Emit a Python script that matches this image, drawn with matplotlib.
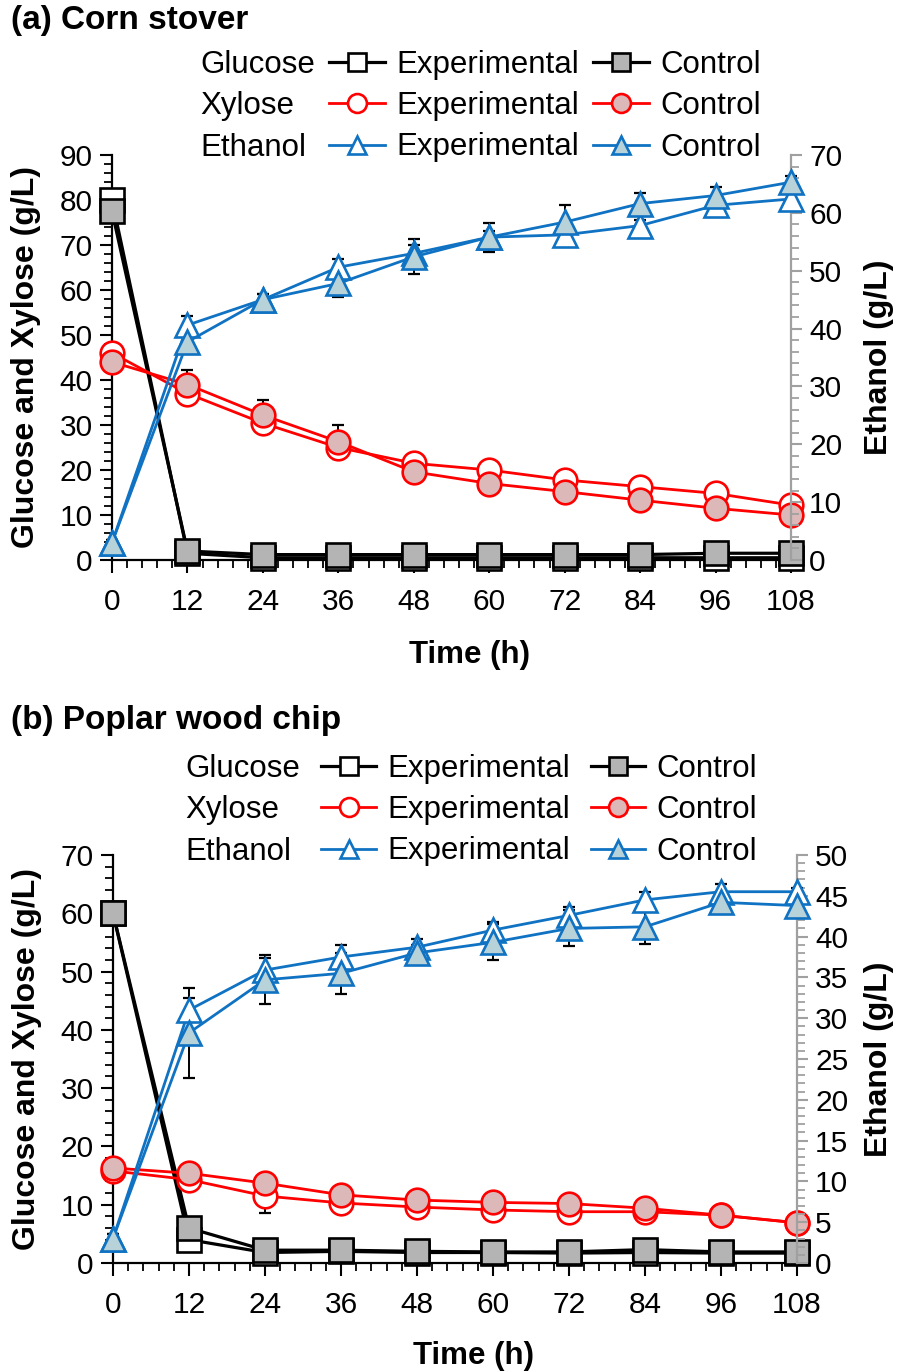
import matplotlib.pyplot as plt
from matplotlib.lines import Line2D
from matplotlib.ticker import MultipleLocator

plt.rcParams['font.family'] = ['Liberation Sans', 'DejaVu Sans']

time_h = [0, 12, 24, 36, 48, 60, 72, 84, 96, 108]

# (a) corn stover
a_glc_exp = [80.0, 1.5, 0.5, 0.5, 0.5, 0.5, 0.5, 0.5, 0.5, 0.5]
a_glc_ctl = [77.5, 2.0, 1.2, 1.2, 1.2, 1.2, 1.2, 1.2, 1.5, 1.5]
a_xyl_exp = [46.0, 37.0, 30.4, 25.0, 21.5, 20.0, 17.8, 16.3, 14.8, 12.2]
a_xyl_ctl = [44.0, 39.0, 32.2, 26.3, 19.6, 17.0, 15.2, 13.3, 11.5, 10.0]
a_eth_exp = [3.0, 40.6, 45.0, 50.6, 53.0, 55.8, 56.2, 57.8, 61.3, 62.4]
a_eth_ctl = [3.0, 37.7, 45.0, 47.8, 52.4, 55.8, 58.4, 61.6, 63.0, 65.3]
a_glc_exp_err = [2.0, 0.5, 0.5, 0.5, 0.5, 0.5, 0.5, 0.5, 0.5, 0.5]
a_glc_ctl_err = [1.0, 0.5, 0.5, 0.5, 0.5, 0.5, 0.5, 0.5, 0.5, 0.5]
a_xyl_exp_err = [1.0, 1.5, 1.5, 1.5, 1.0, 1.0, 1.0, 1.0, 1.0, 1.0]
a_xyl_ctl_err = [1.0, 3.3, 3.3, 3.8, 1.0, 1.0, 1.0, 1.0, 1.0, 1.0]
a_eth_exp_err = [0.5, 1.5, 1.0, 1.5, 1.5, 1.0, 1.0, 1.0, 1.0, 1.0]
a_eth_ctl_err = [0.5, 1.5, 1.0, 2.4, 3.0, 2.5, 3.0, 1.8, 1.5, 1.0]

# (b) poplar wood chip
b_glc_exp = [60.0, 4.0, 1.8, 2.0, 1.8, 1.8, 1.7, 1.8, 1.7, 1.7]
b_glc_ctl = [60.0, 6.0, 2.2, 2.2, 2.0, 1.9, 1.9, 2.3, 1.9, 1.9]
b_xyl_exp = [15.8, 14.3, 11.5, 10.3, 9.6, 9.1, 8.8, 8.8, 8.2, 6.9]
b_xyl_ctl = [16.3, 15.4, 13.7, 11.7, 10.8, 10.4, 10.2, 9.4, 8.2, 6.9]
b_eth_exp = [3.0, 31.0, 35.9, 37.5, 38.7, 40.8, 42.6, 44.5, 45.5, 45.5]
b_eth_ctl = [3.0, 28.2, 34.7, 35.5, 38.0, 39.3, 41.0, 41.2, 44.2, 43.8]
b_glc_exp_err = [0.5, 0.5, 0.3, 0.3, 0.3, 0.3, 0.3, 0.3, 0.3, 0.3]
b_glc_ctl_err = [0.5, 1.0, 0.3, 0.3, 0.3, 0.3, 0.3, 0.5, 0.3, 0.3]
b_xyl_exp_err = [0.5, 1.0, 2.9, 1.6, 1.5, 1.3, 1.2, 1.2, 0.5, 0.5]
b_xyl_ctl_err = [0.5, 0.8, 0.8, 0.8, 0.8, 0.8, 0.8, 0.8, 0.5, 0.5]
b_eth_exp_err = [0.5, 1.5, 1.5, 1.5, 1.0, 1.0, 1.0, 1.0, 1.0, 0.5]
b_eth_ctl_err = [0.5, 5.5, 3.0, 2.5, 1.0, 2.2, 2.2, 2.1, 1.0, 0.5]

BLACK = 'black'
RED = '#ff0000'
BLUE = '#0f72c2'
GRAY_FACE = '#b4b4b4'
PINK_FACE = '#dcb8b8'
BLUE_FACE = '#b8d2da'
AXIS_GRAY = '#a0a0a0'

MS = 17
MEW = 1.9
LW_BLACK = 2.3
LW_COLOR = 2.0
TICK_FS = 21.5
LABEL_FS = 22.5


def series(ax, y, err, color, marker, face, lw):
    ax.errorbar(time_h, y, yerr=err, fmt='none', ecolor='black', elinewidth=1.4,
                capsize=4, capthick=1.6, zorder=2, clip_on=False)
    ax.plot(time_h, y, color=color, lw=lw, marker=marker, ms=MS, mew=MEW,
            mfc=face, mec=color, zorder=3, clip_on=False)


def panel(box, title, title_y, glc, xyl, eth, left_max, right_max, right_major,
          right_minor, legend_xy, hlen, cspace, xlab_y, rlab_x):
    ax = fig.add_axes(box)
    ax2 = ax.twinx()

    series(ax, glc[0], glc[2], BLACK, 's', 'white', LW_BLACK)
    series(ax, glc[1], glc[3], BLACK, 's', GRAY_FACE, LW_BLACK)
    series(ax, xyl[0], xyl[2], RED, 'o', 'white', LW_COLOR)
    series(ax, xyl[1], xyl[3], RED, 'o', PINK_FACE, LW_COLOR)
    series(ax2, eth[0], eth[2], BLUE, '^', 'white', LW_COLOR)
    series(ax2, eth[1], eth[3], BLUE, '^', BLUE_FACE, LW_COLOR)

    ax.set_xlim(0, 108)
    ax.set_ylim(0, left_max)
    ax2.set_ylim(0, right_max)
    ax.xaxis.set_major_locator(MultipleLocator(12))
    ax.xaxis.set_minor_locator(MultipleLocator(2.4))
    ax.yaxis.set_major_locator(MultipleLocator(10))
    ax.yaxis.set_minor_locator(MultipleLocator(2))
    ax2.yaxis.set_major_locator(MultipleLocator(right_major))
    ax2.yaxis.set_minor_locator(MultipleLocator(right_minor))

    for s in ['top', 'right']:
        ax.spines[s].set_visible(False)
    for s in ['top', 'left', 'bottom']:
        ax2.spines[s].set_visible(False)
    ax.spines['left'].set_linewidth(1.6)
    ax.spines['bottom'].set_linewidth(1.6)
    ax2.spines['right'].set_color(AXIS_GRAY)
    ax2.spines['right'].set_linewidth(1.6)

    ax.tick_params(axis='both', which='major', direction='out', length=9, width=1.5,
                   labelsize=TICK_FS)
    ax.tick_params(axis='both', which='minor', direction='out', length=6, width=1.3)
    ax.tick_params(axis='x', which='major', pad=11)
    ax.tick_params(axis='y', which='major', pad=5)
    ax2.tick_params(axis='y', which='major', direction='out', length=8, width=1.5,
                    color=AXIS_GRAY, labelsize=TICK_FS, pad=5)
    ax2.tick_params(axis='y', which='minor', direction='out', length=6, width=1.3,
                    color=AXIS_GRAY)

    ax.set_xlabel('Time (h)', fontsize=LABEL_FS, fontweight='bold')
    ax.xaxis.set_label_coords(0.527, xlab_y)
    ax.set_ylabel('Glucose and Xylose (g/L)', fontsize=23, fontweight='bold',
                  labelpad=13)
    ax2.set_ylabel('Ethanol (g/L)', fontsize=23, fontweight='bold')
    ax2.yaxis.set_label_coords(rlab_x, 0.5)

    fig.text(0.012, title_y, title, fontsize=24, fontweight='bold', va='center')

    blank = Line2D([], [], linestyle='none')
    h = [
        blank, blank, blank,
        Line2D([], [], color=BLACK, lw=LW_BLACK, marker='s', ms=MS, mew=MEW, mfc='white', mec=BLACK),
        Line2D([], [], color=RED, lw=LW_COLOR, marker='o', ms=MS, mew=MEW, mfc='white', mec=RED),
        Line2D([], [], color=BLUE, lw=LW_COLOR, marker='^', ms=MS, mew=MEW, mfc='white', mec=BLUE),
        Line2D([], [], color=BLACK, lw=LW_BLACK, marker='s', ms=MS, mew=MEW, mfc=GRAY_FACE, mec=BLACK),
        Line2D([], [], color=RED, lw=LW_COLOR, marker='o', ms=MS, mew=MEW, mfc=PINK_FACE, mec=RED),
        Line2D([], [], color=BLUE, lw=LW_COLOR, marker='^', ms=MS, mew=MEW, mfc=BLUE_FACE, mec=BLUE),
    ]
    labels = ['Glucose', 'Xylose', 'Ethanol',
              'Experimental', 'Experimental', 'Experimental',
              'Control', 'Control', 'Control']
    fig.legend(h, labels, ncol=3, loc='upper left', bbox_to_anchor=legend_xy,
               frameon=False, fontsize=LABEL_FS, handlelength=hlen, handletextpad=0.35,
               columnspacing=cspace, labelspacing=0.36, borderpad=0, borderaxespad=0,
               markerscale=0.8)
    return ax


fig = plt.figure(figsize=(8.99, 13.72), dpi=100)

panel([112 / 899, 1 - 560 / 1372, (791 - 112) / 899, (560 - 155) / 1372],
      '(a) Corn stover', 1 - 20 / 1372,
      (a_glc_exp, a_glc_ctl, a_glc_exp_err, a_glc_ctl_err),
      (a_xyl_exp, a_xyl_ctl, a_xyl_exp_err, a_xyl_ctl_err),
      (a_eth_exp, a_eth_ctl, a_eth_exp_err, a_eth_ctl_err),
      90, 70, 10, 2, (133 / 899, 1 - 50 / 1372), 1.8, 0.45, -0.198, 1.1075)

panel([113 / 899, 1 - 1263 / 1372, (797 - 113) / 899, (1263 - 855) / 1372],
      '(b) Poplar wood chip', 1 - 721 / 1372,
      (b_glc_exp, b_glc_ctl, b_glc_exp_err, b_glc_ctl_err),
      (b_xyl_exp, b_xyl_ctl, b_xyl_exp_err, b_xyl_ctl_err),
      (b_eth_exp, b_eth_ctl, b_eth_exp_err, b_eth_ctl_err),
      70, 50, 5, 1, (120 / 899, 1 - 754 / 1372), 1.75, 0.67, -0.19, 1.098)

fig.savefig('out.png', dpi=100)
